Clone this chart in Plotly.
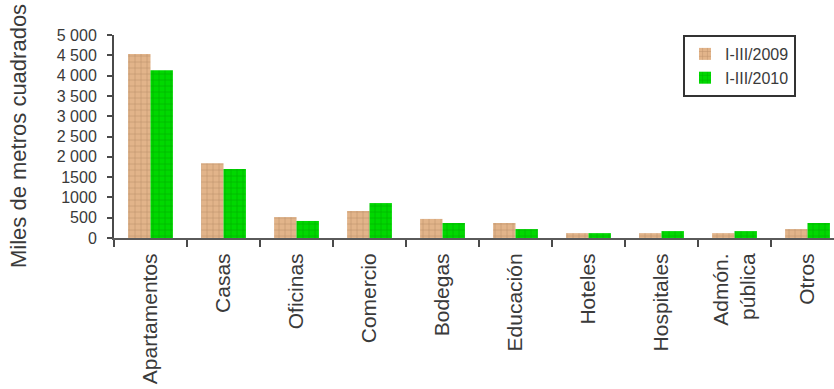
import plotly.graph_objects as go

categories = ["Apartamentos", "Casas", "Oficinas", "Comercio", "Bodegas",
              "Educación", "Hoteles", "Hospitales", "Admón.<br>pública", "Otros"]
series_2009 = [4530, 1840, 515, 665, 470, 370, 120, 120, 120, 220]
series_2010 = [4130, 1700, 420, 860, 370, 220, 120, 170, 170, 370]
y_tickvals = [0, 500, 1000, 1500, 2000, 2500, 3000, 3500, 4000, 4500, 5000]
y_ticktext = ["0", "500", "1000", "1500", "2 000", "2 500", "3 000", "3 500",
              "4 000", "4 500", "5 000"]

FONT = "Liberation Sans, Arial, sans-serif"
TXT = "#3a3a3a"
AX = "#4a4a4a"

W, H = 834, 389
L, T, B = 114, 35, 151
PW = W - L

fig = go.Figure()
fig.add_trace(go.Bar(
    name="I-III/2009", x=categories, y=series_2009,
    marker=dict(color="#E2B48A", line=dict(width=0),
                pattern=dict(shape="+", fgcolor="#9C7350", bgcolor="#E2B48A",
                             size=6, solidity=0.2)),
))
fig.add_trace(go.Bar(
    name="I-III/2010", x=categories, y=series_2010,
    marker=dict(color="#00D800", line=dict(width=0),
                pattern=dict(shape="+", fgcolor="#008A00", bgcolor="#00D800",
                             size=6, solidity=0.2)),
))

fig.update_layout(
    width=W, height=H,
    margin=dict(l=L, r=0, t=T, b=B, pad=0, autoexpand=False),
    paper_bgcolor="white", plot_bgcolor="white",
    barmode="group", bargap=0.386, bargroupgap=0,
    font=dict(family=FONT, color=TXT),
    showlegend=True,
    legend=dict(x=(683 - L) / PW, y=1.0, xanchor="left", yanchor="top",
                bordercolor="#333333", borderwidth=2, bgcolor="white",
                font=dict(size=16, family=FONT, color=TXT),
                tracegroupgap=2),
    xaxis=dict(type="category", range=[-0.5, -0.5 + PW / 73],
               showline=True, linecolor="#5a5a5a", linewidth=2,
               ticks="outside", tickson="boundaries", ticklen=7, tickwidth=2,
               tickcolor=AX, tickangle=-90, showgrid=False,
               ticklabelstandoff=5,
               tickfont=dict(size=21, family=FONT, color=TXT),
               automargin=False),
    yaxis=dict(range=[0, 5000], tickvals=y_tickvals, ticktext=y_ticktext,
               showline=True, linecolor=AX, linewidth=2,
               ticks="outside", ticklen=5, tickwidth=2, tickcolor=AX,
               showgrid=False, zeroline=False, ticklabelstandoff=7,
               tickfont=dict(size=16, family=FONT, color=TXT),
               automargin=False),
    annotations=[dict(text="Miles de metros cuadrados", xref="paper", yref="paper",
                      x=(18.5 - L) / PW, y=0.5, xanchor="center", yanchor="middle",
                      textangle=-90, showarrow=False,
                      font=dict(size=22, family=FONT, color=TXT))],
)

fig.write_html("out.html",
               config={"displayModeBar": False},
               post_script="document.body.style.margin='0';"
                           "document.body.style.overflow='hidden';")
